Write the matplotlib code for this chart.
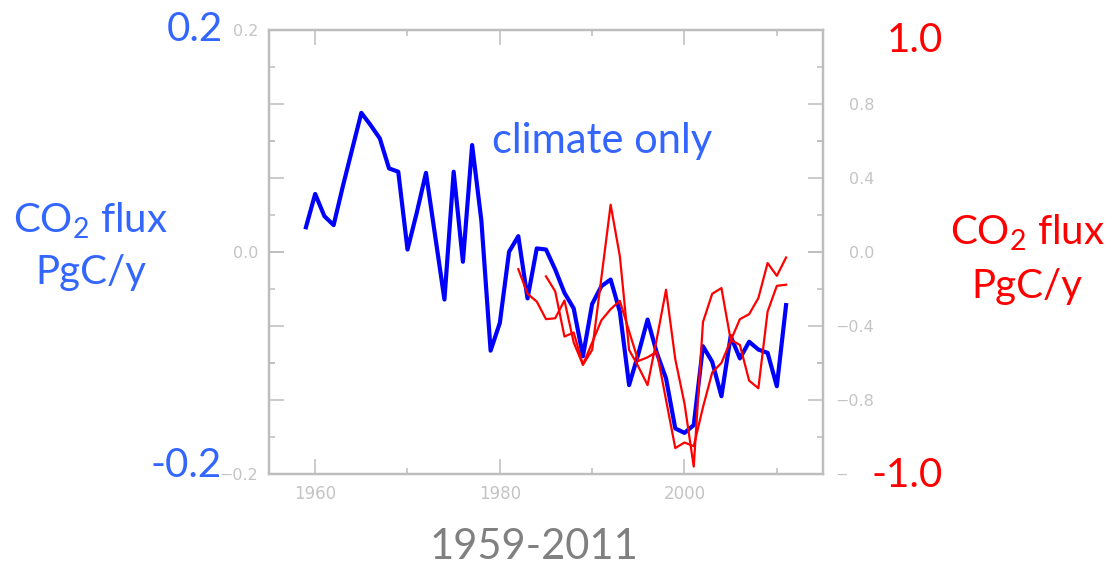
import matplotlib
matplotlib.use("Agg")
import matplotlib.pyplot as plt

# ---------------------------------------------------------------------------
# data
# ---------------------------------------------------------------------------
years_climate = list(range(1959, 2012))
flux_climate = [
    0.022, 0.052, 0.032, 0.024, 0.059, 0.092, 0.125, 0.114, 0.102, 0.075,
    0.072, 0.002, 0.035, 0.071, 0.014, -0.043, 0.072, -0.009, 0.096, 0.028,
    -0.089, -0.064, 0.000, 0.014, -0.042, 0.003, 0.002, -0.016, -0.037, -0.051,
    -0.094, -0.047, -0.031, -0.025, -0.054, -0.120, -0.092, -0.061, -0.091, -0.114,
    -0.159, -0.163, -0.156, -0.085, -0.099, -0.130, -0.076, -0.096, -0.081, -0.088,
    -0.091, -0.121, -0.048,
]

years_red_a = list(range(1982, 2012))
flux_red_a = [
    -0.094, -0.227, -0.269, -0.364, -0.359, -0.263, -0.49, -0.61, -0.53, -0.14,
    0.254, -0.025, -0.53, -0.62, -0.72, -0.47, -0.205, -0.58, -0.82, -1.16,
    -0.38, -0.227, -0.196, -0.476, -0.503, -0.696, -0.737, -0.323, -0.184, -0.178,
]

years_red_b = list(range(1985, 2012))
flux_red_b = [
    -0.133, -0.214, -0.458, -0.436, -0.61, -0.49, -0.37, -0.31, -0.265, -0.43,
    -0.59, -0.57, -0.54, -0.80, -1.06, -1.03, -1.05, -0.84, -0.652, -0.60,
    -0.48, -0.364, -0.337, -0.25, -0.061, -0.13, -0.031,
]

x_major = [1960, 1980, 2000]
x_minor = [1970, 1990, 2010]
left_major = [-0.2, 0.0, 0.2]
left_minor = [-0.1, 0.1]
right_major = [-1.2, -0.8, -0.4, 0.0, 0.4, 0.8, 1.2]
right_minor = [-1.0, -0.6, -0.2, 0.2, 0.6, 1.0]
right_labels = ["\u22121.2", "\u22120.8", "\u22120.4", "0.0", "0.4", "0.8", ""]

BLUE_TXT = "#3366ff"
RED = "#ff0000"
FRAME = "#bdbdbd"
TICKTXT = "#c4c4c4"
BIG = "Lato"

W, H = 1110, 567
fig = plt.figure(figsize=(W / 100, H / 100), dpi=100)
ax = fig.add_axes([269 / W, 1 - 474 / H, (823 - 269) / W, (474 - 29.5) / H])
ax2 = ax.twinx()


def px(x, y):
    """pixel position -> figure fraction"""
    return x / W, 1 - y / H


# ── lines ───────────────────────────────────────────────────────────────────
ax.plot(years_climate, flux_climate, color="#0000ff", linewidth=3)
ax2.plot(years_red_a, flux_red_a, color=RED, linewidth=1.6)
ax2.plot(years_red_b, flux_red_b, color=RED, linewidth=1.6)

ax.set_xlim(1955, 2015)
ax.set_ylim(-0.2, 0.2)
ax2.set_ylim(-1.2, 1.2)

# ── ticks ───────────────────────────────────────────────────────────────────
ax.set_xticks(x_major)
ax.set_xticks(x_minor, minor=True)
ax.set_yticks(left_major)
ax.set_yticks(left_minor, minor=True)
ax.xaxis.set_ticks_position("both")
ax.yaxis.set_ticks_position("left")
ax.tick_params(which="both", direction="in", color=FRAME, width=1.1,
               labelcolor=TICKTXT, labelsize=11.5)
ax.tick_params(which="major", length=11)
ax.tick_params(which="minor", length=4)
ax.tick_params(axis="y", pad=8)
ax.tick_params(axis="x", pad=8, labelsize=12)
# left-axis ticks mirrored on the right spine
ax.tick_params(axis="y", which="both", right=True, labelright=False)

ax2.set_yticks(right_major, labels=right_labels)
ax2.set_yticks(right_minor, minor=True)
ax2.yaxis.set_ticks_position("both")
ax2.tick_params(which="both", direction="in", color=FRAME, width=1.1,
                labelcolor=TICKTXT, labelsize=11.5,
                labelleft=False, labelright=True)
ax2.tick_params(which="major", length=11, pad=37)
ax2.tick_params(which="minor", length=4)
for lbl in ax2.get_yticklabels():
    lbl.set_horizontalalignment("right")

for a in (ax, ax2):
    for sp in a.spines.values():
        sp.set_color(FRAME)
        sp.set_linewidth(1.6)

# ── slide text ──────────────────────────────────────────────────────────────
fig.text(*px(195, 41), "0.2", color=BLUE_TXT, family=BIG, fontsize=29,
         ha="center", va="baseline")
fig.text(*px(186, 477), "-0.2", color=BLUE_TXT, family=BIG, fontsize=29,
         ha="center", va="baseline")
fig.text(*px(90, 232), "CO$_\\mathregular{2}$ flux", color=BLUE_TXT, family=BIG,
         fontsize=29, ha="center", va="baseline")
fig.text(*px(91, 284), "PgC/y", color=BLUE_TXT, family=BIG, fontsize=29,
         ha="center", va="baseline")
fig.text(*px(492, 153), "climate only", color=BLUE_TXT, family=BIG,
         fontsize=30, ha="left", va="baseline")

fig.text(*px(915, 52), "1.0", color=RED, family=BIG, fontsize=29,
         ha="center", va="baseline")
fig.text(*px(907, 487), "-1.0", color=RED, family=BIG, fontsize=29,
         ha="center", va="baseline",
         bbox=dict(boxstyle="square,pad=0.6", fc="white", ec="none"))
fig.text(*px(1027, 244), "CO$_\\mathregular{2}$ flux", color=RED, family=BIG,
         fontsize=29, ha="center", va="baseline")
fig.text(*px(1027, 298), "PgC/y", color=RED, family=BIG, fontsize=29,
         ha="center", va="baseline")

fig.text(*px(534, 559), "1959-2011", color="#808080", family=BIG, fontsize=30,
         ha="center", va="baseline")

fig.savefig("out.png", dpi=100)
